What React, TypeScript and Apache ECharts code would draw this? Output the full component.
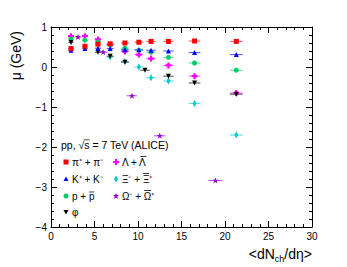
import React, { useEffect, useRef } from "react";
import * as echarts from "echarts";

// multiplicity bins
const mult = [2.3, 3.9, 5.4, 6.8, 8.5, 10.1, 11.5, 13.5, 16.5, 21.3];
const multErr = [0.3, 0.3, 0.35, 0.4, 0.45, 0.5, 0.55, 0.6, 0.67, 0.73];
const piVals = [0.46, 0.52, 0.57, 0.58, 0.6, 0.62, 0.64, 0.64, 0.65, 0.64];
const kVals = [0.42, 0.46, 0.47, 0.46, 0.43, 0.43, 0.42, 0.4, 0.36, 0.31];
const pVals = [0.7, 0.67, 0.63, 0.55, 0.47, 0.42, 0.37, 0.24, 0.1, -0.08];
const lamVals = [0.77, 0.77, 0.69, 0.55, 0.39, 0.31, 0.21, 0.04, -0.23, -0.65];
const xiMult = [6.8, 8.5, 10.1, 11.5, 13.5, 16.5, 21.3];
const xiErr = [0.4, 0.45, 0.5, 0.55, 0.6, 0.67, 0.73];
const xiVals = [0.25, 0.14, 0.0, -0.27, -0.35, -0.91, -1.7];
const phiMult = [2.3, 5.4, 6.8, 8.5, 10.8, 13.5, 16.5, 21.3];
const phiErr = [0.3, 0.35, 0.4, 0.45, 0.55, 0.6, 0.67, 0.73];
const phiVals = [0.61, 0.37, 0.27, 0.12, -0.08, -0.23, -0.4, -0.68];
const omMult = [3.1, 6.0, 9.3, 12.5, 18.9];
const omErr = [0.35, 0.5, 0.6, 0.65, 0.8];
const omVals = [0.75, 0.37, -0.72, -1.72, -2.84];

const xTicks = [0, 5, 10, 15, 20, 25, 30];
const yTicks = [-4, -3, -2, -1, 0, 1];

// legend labels: [before-overlined part, overlined char, after]
const legendCol1 = [
  ["π⁺ + π⁻", "", ""],
  ["K⁺ + K⁻", "", ""],
  ["p + ", "p", ""],
  ["φ", "", ""],
];
const legendCol2 = [
  ["Λ + ", "Λ", ""],
  ["Ξ⁻ + ", "Ξ", "⁺"],
  ["Ω⁻ + ", "Ω", "⁺"],
];
const headerText = "pp, √s = 7 TeV (ALICE)";

const FONT = "Liberation Sans, Arial, sans-serif";
const LFS = 10;
const HFS = 10.5;

const crossPath =
  "path://M-1.1,-3L1.1,-3L1.1,-1.1L3,-1.1L3,1.1L1.1,1.1L1.1,3L-1.1,3L-1.1,1.1L-3,1.1L-3,-1.1L-1.1,-1.1Z";
const starPath =
  "path://M0,-3L0.9,-0.9L3,-0.9L1.3,0.4L2,3L0,1.4L-2,3L-1.3,0.4L-3,-0.9L-0.9,-0.9Z";

type Spec = {
  name: string;
  xs: number[];
  errs: number[];
  ys: number[];
  color: string;
  symbol: string;
  size: number | number[];
  rotate?: number;
};

const specs: Spec[] = [
  { name: "Lambda", xs: mult, errs: multErr, ys: lamVals, color: "#ff00ff", symbol: crossPath, size: 6 },
  { name: "p", xs: mult, errs: multErr, ys: pVals, color: "#00cc66", symbol: "circle", size: 5 },
  { name: "Xi", xs: xiMult, errs: xiErr, ys: xiVals, color: "#00cccc", symbol: "diamond", size: [4, 7] },
  { name: "phi", xs: phiMult, errs: phiErr, ys: phiVals, color: "#000000", symbol: "triangle", size: 5, rotate: 180 },
  { name: "Omega", xs: omMult, errs: omErr, ys: omVals, color: "#9900cc", symbol: starPath, size: 6 },
  { name: "K", xs: mult, errs: multErr, ys: kVals, color: "#0000ff", symbol: "triangle", size: 5 },
  { name: "pi", xs: mult, errs: multErr, ys: piVals, color: "#ff0000", symbol: "rect", size: 5 },
];

function measure(text: string, size: number): number {
  const c = document.createElement("canvas").getContext("2d");
  if (!c) return text.length * size * 0.55;
  c.font = `${size}px "Liberation Sans", Arial, sans-serif`;
  return c.measureText(text).width;
}

export default function App() {
  const ref = useRef<HTMLDivElement>(null);
  useEffect(() => {
    if (!ref.current) return;
    const chart = echarts.init(ref.current, undefined, { renderer: "svg" });
    const series: any[] = [];
    specs.forEach((s) => {
      series.push({
        type: "custom",
        name: s.name + "err",
        silent: true,
        z: 2,
        data: s.xs.map((x, i) => [x, s.ys[i], s.errs[i]]),
        renderItem: (params: any, api: any) => {
          const x = api.value(0);
          const y = api.value(1);
          const e = api.value(2);
          const p1 = api.coord([x - e, y]);
          const p2 = api.coord([x + e, y]);
          return {
            type: "line",
            shape: { x1: p1[0], y1: p1[1], x2: p2[0], y2: p2[1] },
            style: { stroke: s.color, lineWidth: 1, opacity: 0.7 },
          };
        },
      });
      series.push({
        type: "scatter",
        name: s.name,
        z: 3,
        data: s.xs.map((x, i) => [x, s.ys[i]]),
        symbol: s.symbol,
        symbolSize: s.size,
        symbolRotate: s.rotate || 0,
        itemStyle: { color: s.color, opacity: 1 },
      });
    });

    const axisCommon = {
      axisLine: { show: true, onZero: false, lineStyle: { color: "#000", width: 1 } },
      axisTick: { show: true, inside: true, length: 6, lineStyle: { color: "#000" } },
      minorTick: { show: true, splitNumber: 5, length: 3, lineStyle: { color: "#000" } },
      splitLine: { show: false },
    };

    const legendY = [162, 179, 196, 212];
    const c1m = 66, c1t = 72, c2m = 116, c2t = 122;
    const ts = { fontFamily: FONT, fontSize: LFS, fill: "#000", verticalAlign: "middle" as const };

    const labelEls = (x: number, y: number, parts: string[]) => {
      const full = parts.join("");
      const els: any[] = [{ type: "text", x, y, style: { ...ts, text: full } }];
      if (parts[1]) {
        const x0 = x + measure(parts[0], LFS);
        const w = measure(parts[1], LFS);
        const lower = parts[1] === "p";
        const oy = lower ? y - 4 : y - 5.5;
        els.push({
          type: "line",
          shape: { x1: x0 + 0.3, y1: oy, x2: x0 + w - 0.3, y2: oy },
          style: { stroke: "#000", lineWidth: 0.8 },
        });
      }
      return els;
    };

    const sqrtX = 61 + measure("pp, √", HFS);
    const sW = measure("s", HFS);

    const graphic: any[] = [
      {
        type: "text",
        x: 16,
        y: 31,
        rotation: Math.PI / 2,
        style: { text: "μ (GeV)", fontFamily: FONT, fontSize: 14, fill: "#000", align: "right", verticalAlign: "middle" },
      },
      {
        type: "text",
        x: 312,
        y: 254,
        style: {
          text: "<dN{sub|ch}/dη>",
          fontFamily: FONT,
          fontSize: 14,
          fill: "#000",
          align: "right",
          verticalAlign: "middle",
          rich: { sub: { fontFamily: FONT, fontSize: 9, fill: "#000", padding: [9, 0, 0, 0] } },
        },
      },
      { type: "text", x: 61, y: 145, style: { ...ts, fontSize: HFS, text: headerText } },
      { type: "line", shape: { x1: sqrtX - 0.5, y1: 139.8, x2: sqrtX + sW, y2: 139.8 }, style: { stroke: "#000", lineWidth: 0.7 } },
      // column 1 markers
      { type: "rect", shape: { x: c1m - 2.5, y: legendY[0] - 2.5, width: 5, height: 5 }, style: { fill: "#ff0000" } },
      { type: "polygon", shape: { points: [[c1m, legendY[1] - 2.5], [c1m + 2.5, legendY[1] + 2], [c1m - 2.5, legendY[1] + 2]] }, style: { fill: "#0000ff" } },
      { type: "circle", shape: { cx: c1m, cy: legendY[2], r: 2.5 }, style: { fill: "#00cc66" } },
      { type: "polygon", shape: { points: [[c1m, legendY[3] + 2.5], [c1m + 2.5, legendY[3] - 2], [c1m - 2.5, legendY[3] - 2]] }, style: { fill: "#000" } },
      // column 2 markers
      {
        type: "polygon",
        shape: { points: [[c2m - 1, legendY[0] - 3], [c2m + 1, legendY[0] - 3], [c2m + 1, legendY[0] - 1], [c2m + 3, legendY[0] - 1], [c2m + 3, legendY[0] + 1], [c2m + 1, legendY[0] + 1], [c2m + 1, legendY[0] + 3], [c2m - 1, legendY[0] + 3], [c2m - 1, legendY[0] + 1], [c2m - 3, legendY[0] + 1], [c2m - 3, legendY[0] - 1], [c2m - 1, legendY[0] - 1]] },
        style: { fill: "#ff00ff" },
      },
      { type: "polygon", shape: { points: [[c2m, legendY[1] - 3.5], [c2m + 2, legendY[1]], [c2m, legendY[1] + 3.5], [c2m - 2, legendY[1]]] }, style: { fill: "#00cccc" } },
      {
        type: "polygon",
        shape: { points: [[c2m, legendY[2] - 3], [c2m + 0.9, legendY[2] - 0.9], [c2m + 3, legendY[2] - 0.9], [c2m + 1.3, legendY[2] + 0.4], [c2m + 2, legendY[2] + 3], [c2m, legendY[2] + 1.4], [c2m - 2, legendY[2] + 3], [c2m - 1.3, legendY[2] + 0.4], [c2m - 3, legendY[2] - 0.9], [c2m - 0.9, legendY[2] - 0.9]] },
        style: { fill: "#9900cc" },
      },
    ];
    legendCol1.forEach((p, i) => graphic.push(...labelEls(c1t, legendY[i], p)));
    legendCol2.forEach((p, i) => graphic.push(...labelEls(c2t, legendY[i], p)));

    chart.setOption({
      animation: false,
      grid: { left: 51, right: 35, top: 27, bottom: 40, containLabel: false },
      xAxis: [
        {
          type: "value",
          min: xTicks[0],
          max: xTicks[xTicks.length - 1],
          interval: 5,
          position: "bottom",
          ...axisCommon,
          axisLabel: { show: true, fontFamily: FONT, fontSize: 10, color: "#000", margin: 4 },
        },
        {
          type: "value",
          min: xTicks[0],
          max: xTicks[xTicks.length - 1],
          interval: 5,
          position: "top",
          ...axisCommon,
          axisLabel: { show: false },
        },
      ],
      yAxis: [
        {
          type: "value",
          min: yTicks[0],
          max: yTicks[yTicks.length - 1],
          interval: 1,
          position: "left",
          ...axisCommon,
          axisLabel: {
            show: true,
            fontFamily: FONT,
            fontSize: 10,
            color: "#000",
            margin: 4,
            formatter: (v: number) => (v < 0 ? "−" + Math.abs(v) : String(v)),
          },
        },
        {
          type: "value",
          min: yTicks[0],
          max: yTicks[yTicks.length - 1],
          interval: 1,
          position: "right",
          ...axisCommon,
          axisLabel: { show: false },
        },
      ],
      series,
      graphic,
    });
    return () => chart.dispose();
  }, []);
  return <div ref={ref} style={{ width: 347, height: 267, position: "absolute", left: 0, top: 0 }} />;
}
